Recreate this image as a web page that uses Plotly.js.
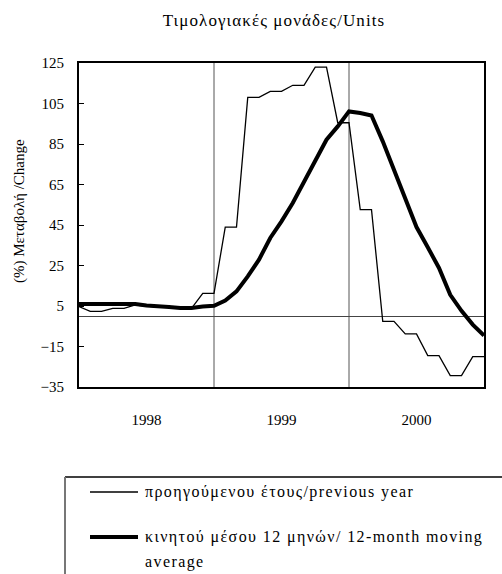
<!DOCTYPE html>
<html>
<head>
<meta charset="utf-8">
<script src="https://cdn.plot.ly/plotly-3.0.1.min.js"></script>
<style>
  body { margin: 0; background: #fff; }
  #chart { width: 502px; height: 574px; }
  /* the original Excel text is set a little loose */
  #chart .gtitle { letter-spacing: 1.1px; }
  #chart g.annotation[data-index="1"] text,
  #chart g.annotation[data-index="2"] text,
  #chart g.annotation[data-index="3"] text { letter-spacing: 1.4px; }
</style>
</head>
<body>
<div id="chart"></div>
<script>
// monthly points, Jan 1998 .. Jan 2001
const previousYear = [4.7, 2.3, 2.3, 3.8, 3.8, 5.5, 5.0, 4.5, 4.5, 3.8, 3.8, 11.2, 11.2,
  44, 44, 108, 108, 111, 111, 114, 114, 123, 123, 95.5, 95.5,
  52.6, 52.6, -2.6, -2.6, -8.8, -8.8, -19.5, -19.5, -29.4, -29.4, -20, -20];
const movingAverage = [6.0, 6.0, 6.0, 6.0, 6.0, 6.0, 5.3, 4.7, 4.5, 4.0, 4.0, 4.7, 5.1,
  7.7, 12.2, 19.6, 27.9, 38.6, 46.8, 55.9, 66.0, 76.4, 87.1, 93.7, 101.1,
  100.3, 99.1, 86.3, 72.5, 58.0, 44.0, 34.0, 23.8, 10.5, 2.6, -4.2, -9.6];
const years = ['1998', '1999', '2000'];
const yearCentres = [6, 18, 30];
const yearBreaks = [12, 24];
const yTicks = [-35, -15, 5, 25, 45, 65, 85, 105, 125];

const legendNames = ['προηγούμενου έτους/previous year',
  'κινητού μέσου 12 μηνών/ 12-month moving', 'average'];

const months = previousYear.map((_, i) => i);
const FONT = 'Liberation Serif, Times New Roman, serif';

// plot area in pixels: 79..484 x 63..387
const L = 79, R = 484, T = 63, B = 387;
const px = x => (x - L) / (R - L);
const py = y => (B - y) / (B - T);

const traces = [
  { x: months, y: previousYear, type: 'scatter', mode: 'lines',
    line: { color: '#000', width: 1.3 }, name: legendNames[0] },
  { x: months, y: movingAverage, type: 'scatter', mode: 'lines',
    line: { color: '#000', width: 4 }, name: legendNames[1] }
];

const shapes = yearBreaks.map(b => ({
  type: 'line', xref: 'x', yref: 'paper', x0: b, x1: b, y0: 0, y1: 1,
  line: { color: '#555', width: 1 }, layer: 'below'
}));

// legend box (cut off at the window edge) and samples
shapes.push(
  { type: 'line', xref: 'paper', yref: 'paper', x0: px(65), x1: px(502), y0: py(477), y1: py(477),
    line: { color: '#000', width: 1.5 } },
  { type: 'line', xref: 'paper', yref: 'paper', x0: px(65), x1: px(65), y0: py(477), y1: py(580),
    line: { color: '#777', width: 2 } },
  { type: 'line', xref: 'paper', yref: 'paper', x0: px(90), x1: px(138), y0: py(492), y1: py(492),
    line: { color: '#000', width: 1.3 } },
  { type: 'line', xref: 'paper', yref: 'paper', x0: px(90), x1: px(138), y0: py(537), y1: py(537),
    line: { color: '#000', width: 4 } }
);

const legendFont = { family: FONT, size: 16, color: '#000' };
const legendLabel = (text, y) => ({
  text: text, xref: 'paper', yref: 'paper', x: px(143), y: py(y),
  xanchor: 'left', yanchor: 'middle', align: 'left', showarrow: false, font: legendFont
});

const annotations = [
  { text: '(%) Μεταβολή /Change', xref: 'paper', yref: 'paper', x: px(19), y: py(211),
    xanchor: 'center', yanchor: 'middle', textangle: -90, showarrow: false,
    font: { family: FONT, size: 15, color: '#000' } },
  legendLabel(legendNames[0], 492),
  legendLabel(legendNames[1], 537),
  legendLabel(legendNames[2], 562)
];

const layout = {
  width: 502,
  height: 574,
  margin: { l: L, r: 502 - R, t: T, b: 574 - B },
  paper_bgcolor: '#fff',
  plot_bgcolor: '#fff',
  showlegend: false,
  font: { family: FONT, size: 15, color: '#000' },
  title: { text: 'Τιμολογιακές μονάδες/Units', x: 274 / 502, xanchor: 'center',
    y: 1 - 20 / 574, yanchor: 'middle', font: { family: FONT, size: 17, color: '#000' } },
  xaxis: {
    range: [0, 36], tickmode: 'array', tickvals: yearCentres, ticktext: years,
    ticks: '', showgrid: false, zeroline: false,
    showline: true, mirror: true, linecolor: '#000', linewidth: 2,
    ticklabelstandoff: 18
  },
  yaxis: {
    range: [-35, 125], tickmode: 'array', tickvals: yTicks,
    ticks: 'inside', ticklen: 5, tickcolor: '#000', showgrid: false,
    zeroline: true, zerolinecolor: '#444', zerolinewidth: 1,
    showline: true, mirror: true, linecolor: '#000', linewidth: 2,
    ticklabelstandoff: 10
  },
  shapes: shapes,
  annotations: annotations
};

Plotly.newPlot('chart', traces, layout, { displayModeBar: false, staticPlot: true });
</script>
</body>
</html>
